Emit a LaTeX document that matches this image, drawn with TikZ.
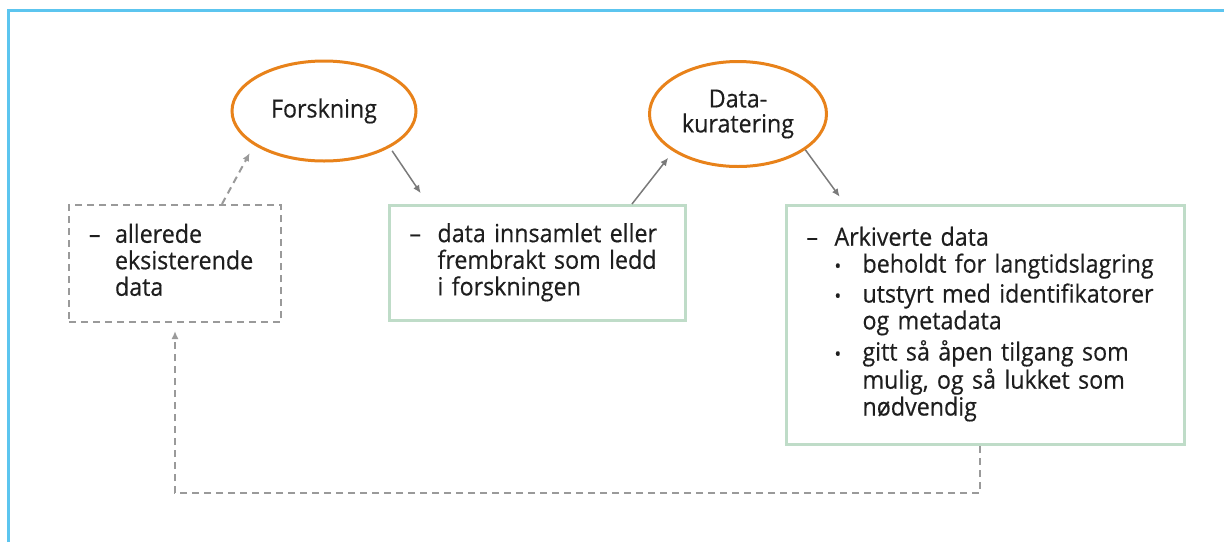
\documentclass[tikz,border=0pt]{standalone}
\usepackage{fontspec}
\setmainfont[FakeStretch=0.93,FakeBold=0.4]{Open Sans}
\usetikzlibrary{shapes.geometric,arrows.meta}
\definecolor{frameblue}{HTML}{5CC5EF}
\definecolor{ringorange}{HTML}{E8821A}
\definecolor{boxgreen}{HTML}{BFDCC8}
\definecolor{linegray}{HTML}{7A7A7A}
\definecolor{dashgray}{HTML}{9A9A9A}
\definecolor{textdark}{HTML}{1E1E1E}
\newcommand{\bul}{\raisebox{0pt}{\fontsize{19}{19}\selectfont\textbullet}}
\tikzset{
  phase/.style={ellipse,draw=ringorange,line width=3pt,inner sep=0pt,align=center,
    text=textdark,font=\fontsize{25}{25}\selectfont},
  databox/.style={draw=boxgreen,line width=3pt,anchor=north west,inner xsep=20pt,inner ysep=0pt,
    align=left,text=textdark,font=\fontsize{25}{25}\selectfont},
  oldbox/.style={databox,draw=dashgray,line width=2pt,dash pattern=on 7pt off 5pt},
  flow/.style={draw=linegray,line width=1.5pt,-{Latex[length=8pt,width=7pt]}},
  back/.style={draw=dashgray,line width=2pt,dash pattern=on 7pt off 5pt,-{Latex[length=8pt,width=7pt]}}
}
\begin{document}
\begin{tikzpicture}[x=1pt,y=-1pt]
    \useasboundingbox (0,0) rectangle (1224,542);
    \draw[frameblue,line width=3pt] (8.3,542) -- (8.3,10.5) -- (1224,10.5);

    % ellipses
    \node[phase,minimum width=184pt,minimum height=100pt] (forsk) at (324,111) {Forskning};
    \node[phase,minimum width=177pt,minimum height=105pt] (kurat) at (738,114) {Data-\\kuratering};

    % boxes
    \node[oldbox,text width=172pt,minimum height=117pt] (old) at (68,204)
    {\begin{tabular}{@{}p{26pt}@{}l@{}}–&allerede\\&eksisterende\\&data\end{tabular}};
    \node[databox,text width=256pt,minimum height=115pt] (innsamlet) at (388,204)
    {\begin{tabular}{@{}p{28pt}@{}l@{}}–&data innsamlet eller\\&frembrakt som ledd\\&i forskningen\end{tabular}};
    \node[databox,text width=358pt,minimum height=239pt,font=\fontsize{25}{26}\selectfont] (arkiv) at (785,204)
    {\begin{tabular}{@{}p{28pt}@{}p{28pt}@{}l@{}}
    –&\multicolumn{2}{@{}l@{}}{Arkiverte data}\\
    &\bul&beholdt for langtidslagring\\[3pt]
    &\bul&utstyrt med identifikatorer\\
    &&og metadata\\[3pt]
    &\bul&gitt så åpen tilgang som\\
    &&mulig, og så lukket som\\
    &&nødvendig
    \end{tabular}};

    % connectors
    \draw[back,shorten >=9pt] ([xshift=154pt]old.north west) -- (forsk.206);
    \draw[flow,shorten <=4pt,shorten >=13pt] (forsk.331) -- ([xshift=40pt]innsamlet.north west);
    \draw[flow,shorten >=8pt] ([xshift=244pt]innsamlet.north west) -- (kurat.210.5);
    \draw[flow,shorten >=9pt] (kurat.332) -- ([xshift=60pt]arkiv.north west);
    \draw[back,shorten >=8pt] ([xshift=195pt]arkiv.south west) -- ++(0,47) -| ([xshift=107pt]old.south west);
\end{tikzpicture}
\end{document}
